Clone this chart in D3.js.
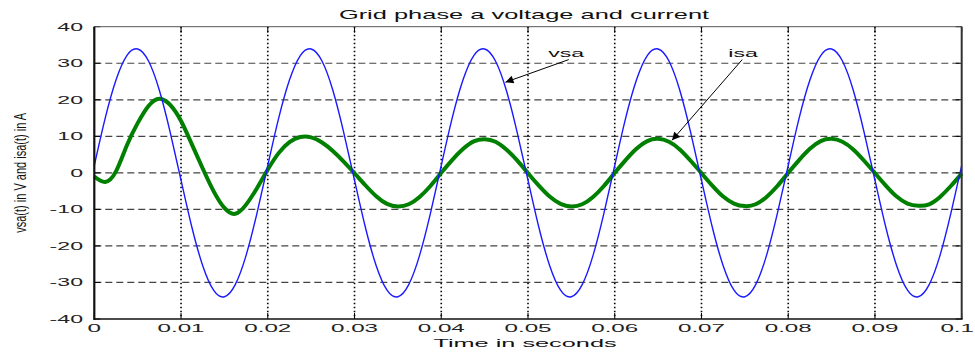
<!DOCTYPE html>
<html>
<head>
<meta charset="utf-8">
<script src="https://cdn.jsdelivr.net/npm/d3@7"></script>
<style>
  html, body { margin: 0; padding: 0; background: #fff; }
  svg { display: block; }
</style>
</head>
<body>
<svg id="chart" width="975" height="352"></svg>
<script>
// ---------- DATA ----------
const title = "Grid phase a voltage and current";
const xLabel = "Time in seconds";
const yLabel = "vsa(t) in V and isa(t) in A";

const timeStep = 0.00125;          // sampling interval of the readings (s)
const vsa = [
  2.0, 14.9, 25.4, 32.1, 33.9, 30.6, 22.6, 11.1, -2.0, -14.9, -25.4, -32.1, -33.9, -30.6, -22.6, -11.1,
  2.0, 14.9, 25.4, 32.1, 33.9, 30.6, 22.6, 11.1, -2.0, -14.9, -25.4, -32.1, -33.9, -30.6, -22.6, -11.1,
  2.0, 14.9, 25.4, 32.1, 33.9, 30.6, 22.6, 11.1, -2.0, -14.9, -25.4, -32.1, -33.9, -30.6, -22.6, -11.1,
  2.0, 14.9, 25.4, 32.1, 33.9, 30.6, 22.6, 11.1, -2.0, -14.9, -25.4, -32.1, -33.9, -30.6, -22.6, -11.1,
  2.0, 14.9, 25.4, 32.1, 33.9, 30.6, 22.6, 11.1, -2.0, -14.9, -25.4, -32.1, -33.9, -30.6, -22.6, -11.1,
  2.0
];
const isa = [
  -1.0, -2.5, 0.4, 7.5, 13.6, 18.3, 20.3, 18.6, 14.2, 7.8, 1.2, -5.0, -9.6, -11.2, -8.7, -4.2,
  0.9, 5.4, 8.4, 9.8, 9.7, 8.3, 6.0, 3.1, -0.1, -3.4, -6.4, -8.5, -9.2, -8.6, -6.6, -3.6,
  0.0, 3.5, 6.5, 8.6, 9.2, 8.5, 6.4, 3.4, -0.1, -3.5, -6.5, -8.5, -9.2, -8.6, -6.6, -3.6,
  0.0, 3.5, 6.6, 8.7, 9.3, 8.5, 6.4, 3.3, -0.1, -3.5, -6.5, -8.4, -9.1, -8.6, -6.6, -3.6,
  0.0, 3.5, 6.6, 8.7, 9.3, 8.5, 6.4, 3.3, -0.1, -3.5, -6.5, -8.4, -9.0, -8.6, -6.6, -3.6,
  -0.2
];

const xTicks = [0, 0.01, 0.02, 0.03, 0.04, 0.05, 0.06, 0.07, 0.08, 0.09, 0.1];
const xTickLabels = ["0", "0.01", "0.02", "0.03", "0.04", "0.05", "0.06", "0.07", "0.08", "0.09", "0.1"];
const yTicks = [-40, -30, -20, -10, 0, 10, 20, 30, 40];
const yTickLabels = ["-40", "-30", "-20", "-10", "0", "10", "20", "30", "40"];

// annotation: label, label position (t, value), arrow start (t, value), arrow tip (t, value)
const annLabels = ["vsa", "isa"];
const annLabelT = [0.0544, 0.0748];
const annLabelV = [31.8, 31.8];
const annStartT = [0.0547, 0.0747];
const annStartV = [31.0, 31.0];
const annTipT = [0.0474, 0.0666];
const annTipV = [24.8, 8.9];

// ---------- DRAW ----------
const W = 975;
const svg = d3.select("#chart");
const L = 94.3, R = 961.7, T = 26.7, B = 319;
const x = d3.scaleLinear().domain([0, 0.1]).range([L, R]);
const y = d3.scaleLinear().domain([-40, 40]).range([B, T]);
const FONT = '"Liberation Sans", Arial, Helvetica, sans-serif';

function stretchText(parent, px, py, str, sx, anchor, size, fill) {
  const g = parent.append("g").attr("transform", `translate(${px},${py}) scale(${sx},1)`);
  const t = g.append("text")
    .attr("text-anchor", anchor)
    .attr("font-family", FONT)
    .attr("font-size", size)
    .attr("fill", fill || "#111")
    .text(str);
  // keep the text inside the picture
  const bb = g.node().getBBox();
  const right = px + (bb.x + bb.width) * sx;
  if (right > W - 1) {
    g.attr("transform", `translate(${px - (right - (W - 1))},${py}) scale(${sx},1)`);
  }
  return g;
}

// grid: horizontal dashed
const grid = svg.append("g");
grid.selectAll("line.h")
  .data(yTicks.filter(v => v > -40 && v < 40))
  .join("line")
  .attr("x1", L).attr("x2", R)
  .attr("y1", d => y(d)).attr("y2", d => y(d))
  .attr("stroke", "#444").attr("stroke-width", 1.2)
  .attr("stroke-dasharray", "7,4");
// grid: vertical dotted
grid.selectAll("line.v")
  .data(xTicks.filter(v => v > 0 && v < 0.1))
  .join("line")
  .attr("x1", d => x(d)).attr("x2", d => x(d))
  .attr("y1", T).attr("y2", B)
  .attr("stroke", "#000").attr("stroke-width", 1.6)
  .attr("stroke-dasharray", "1.6,2.4");

// ticks (inward, all four sides)
const tk = svg.append("g").attr("stroke", "#000").attr("stroke-width", 1);
xTicks.forEach(v => {
  tk.append("line").attr("x1", x(v)).attr("x2", x(v)).attr("y1", B).attr("y2", B - 6);
  tk.append("line").attr("x1", x(v)).attr("x2", x(v)).attr("y1", T).attr("y2", T + 6);
});
yTicks.forEach(v => {
  tk.append("line").attr("x1", L).attr("x2", L + 6).attr("y1", y(v)).attr("y2", y(v));
  tk.append("line").attr("x1", R).attr("x2", R - 6).attr("y1", y(v)).attr("y2", y(v));
});

// series
const times = vsa.map((_, i) => i * timeStep);
const line = d3.line().x((d, i) => x(times[i])).y(d => y(d)).curve(d3.curveNatural);

svg.append("path")
  .datum(isa)
  .attr("d", line)
  .attr("fill", "none")
  .attr("stroke", "#008000")
  .attr("stroke-width", 4)
  .attr("stroke-linejoin", "round");

svg.append("path")
  .datum(vsa)
  .attr("d", line)
  .attr("fill", "none")
  .attr("stroke", "#1a1aff")
  .attr("stroke-width", 1.4)
  .attr("stroke-linejoin", "round");

// frame
svg.append("line").attr("x1", L).attr("x2", R).attr("y1", T).attr("y2", T)
  .attr("stroke", "#555").attr("stroke-width", 1);
svg.append("line").attr("x1", R).attr("x2", R).attr("y1", T).attr("y2", B)
  .attr("stroke", "#333").attr("stroke-width", 2);
svg.append("line").attr("x1", L).attr("x2", R + 1).attr("y1", B).attr("y2", B)
  .attr("stroke", "#111").attr("stroke-width", 1.6);
svg.append("line").attr("x1", L).attr("x2", L).attr("y1", T).attr("y2", B + 1)
  .attr("stroke", "#111").attr("stroke-width", 2.2);

// tick labels
const lab = svg.append("g");
xTicks.forEach((v, i) => stretchText(lab, x(v), 332, xTickLabels[i], 2.2, "middle", 11, "#222"));
yTicks.forEach((v, i) => stretchText(lab, 83, y(v) + 4, yTickLabels[i], 2.1, "end", 11, "#222"));

// title and axis labels
stretchText(svg, 524, 18.5, title, 2.12, "middle", 12, "#111");
stretchText(svg, 525, 347, xLabel, 2.3, "middle", 11, "#111");
svg.append("g")
  .attr("transform", `translate(20.5,${(T + B) / 2}) rotate(-90) scale(1,1.5)`)
  .append("text")
  .attr("text-anchor", "middle")
  .attr("dy", "0.35em")
  .attr("font-family", FONT)
  .attr("font-size", 11)
  .attr("fill", "#111")
  .text(yLabel);

// annotations
const defs = svg.append("defs");
defs.append("marker")
  .attr("id", "arrow")
  .attr("viewBox", "0 0 10 10")
  .attr("refX", 10).attr("refY", 5)
  .attr("markerWidth", 12).attr("markerHeight", 8)
  .attr("markerUnits", "userSpaceOnUse")
  .attr("orient", "auto")
  .append("path").attr("d", "M0,0 L10,5 L0,10 Z").attr("fill", "#000");

annLabels.forEach((s, i) => {
  stretchText(svg, x(annLabelT[i]), y(annLabelV[i]), s, 2.1, "middle", 11, "#111");
  svg.append("line")
    .attr("x1", x(annStartT[i])).attr("y1", y(annStartV[i]))
    .attr("x2", x(annTipT[i])).attr("y2", y(annTipV[i]))
    .attr("stroke", "#000").attr("stroke-width", 1)
    .attr("marker-end", "url(#arrow)");
});
</script>
</body>
</html>
